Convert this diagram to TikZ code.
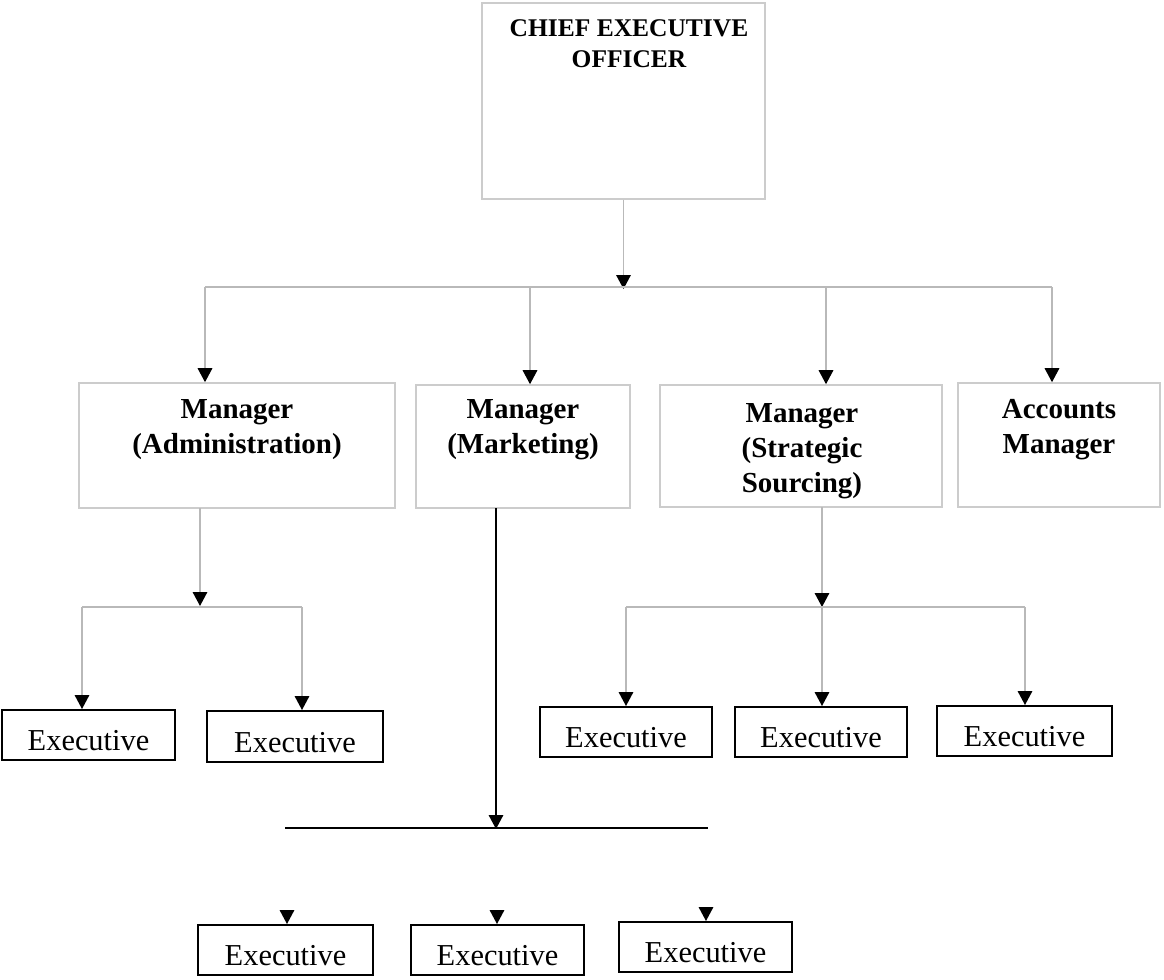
\documentclass[tikz,border=0pt]{standalone}
\usepackage{fontspec}
\setmainfont{Liberation Serif}
\usetikzlibrary{arrows.meta}
\tikzset{
  gbox/.style={draw=gray!40, line width=0.9pt, inner sep=0pt},
  ebox/.style={draw=black, line width=1.1pt, inner sep=0pt, text height=18pt, text depth=0pt, font=\fontsize{17.3}{20}\selectfont},
  mtext/.style={font=\bfseries\fontsize{16.5}{19.9}\selectfont, align=center},
  ctext/.style={font=\bfseries\fontsize{14.5}{17.6}\selectfont, align=center},
  glink/.style={draw=gray!55, line width=0.9pt},
  blink/.style={draw=black, line width=0.9pt},
  tip/.style={-{Triangle[width=0.29cm,length=0.28cm,color=black]}}
}
\begin{document}
\begin{tikzpicture}[x=0.02cm,y=-0.02cm]
\useasboundingbox (0,0) rectangle (1164,980);

% CEO
\node[gbox, minimum width=5.66cm, minimum height=3.92cm] (ceo) at (623.5,101) {};
\node[ctext] (ceot) at (629,43.5) {CHIEF EXECUTIVE\\OFFICER};

% Managers
\node[gbox, minimum width=6.32cm, minimum height=2.5cm] (adm) at (237,445.5) {};
\node[mtext] (admt) at (237,430) {Manager\\(Administration)};
\node[gbox, minimum width=4.28cm, minimum height=2.46cm] (mkt) at (523,446.5) {};
\node[mtext] (mktt) at (523,430) {Manager\\(Marketing)};
\node[gbox, minimum width=5.64cm, minimum height=2.44cm] (str) at (801,446) {};
\node[mtext] (strt) at (802,451) {Manager\\(Strategic\\Sourcing)};
\node[gbox, minimum width=4.04cm, minimum height=2.48cm] (acc) at (1059,445) {};
\node[mtext] (acct) at (1059,430) {Accounts\\Manager};

% Executives (administration)
\node[ebox, minimum width=3.46cm, minimum height=1.0cm] (e1) at (88.5,735) {Executive};
\node[ebox, minimum width=3.52cm, minimum height=1.02cm] (e2) at (295,736.5) {Executive};
% Executives (strategic sourcing)
\node[ebox, minimum width=3.44cm, minimum height=1.0cm] (s1) at (626,732) {Executive};
\node[ebox, minimum width=3.44cm, minimum height=1.0cm] (s2) at (821,732) {Executive};
\node[ebox, minimum width=3.5cm, minimum height=1.0cm] (s3) at (1024.5,731) {Executive};
% Executives (marketing)
\node[ebox, minimum width=3.5cm, minimum height=1.0cm] (m1) at (285.5,950) {Executive};
\node[ebox, minimum width=3.46cm, minimum height=1.0cm] (m2) at (497.5,950) {Executive};
\node[ebox, minimum width=3.46cm, minimum height=1.0cm] (m3) at (705.5,947) {Executive};

% CEO to managers
\coordinate (bus) at (622,289);
\coordinate (bL) at (205,287);
\coordinate (bM) at (530,287);
\coordinate (bS) at (826,287);
\coordinate (bR) at (1052,287);
\draw[glink, tip] (ceo.south) -- (ceo.south |- bus);
\draw[glink] (bL) -- (bR);
\draw[glink, tip] (bL) -- (bL |- adm.north);
\draw[glink, tip] (bM) -- (bM |- mkt.north);
\draw[glink, tip] (bS) -- (bS |- str.north);
\draw[glink, tip] (bR) -- (bR |- acc.north);

% Administration branch
\coordinate (aOut) at (200,508);
\coordinate (aBus) at (200,606);
\coordinate (aL) at (82,607);
\coordinate (aR) at (302,607);
\draw[glink, tip] (aOut) -- (aBus);
\draw[glink] (aL) -- (aR);
\draw[glink, tip] (aL) -- (aL |- e1.north);
\draw[glink, tip] (aR) -- (aR |- e2.north);

% Strategic sourcing branch
\coordinate (sOut) at (822,507);
\coordinate (sBus) at (822,607);
\coordinate (sL) at (626,607);
\coordinate (sR) at (1025,607);
\draw[glink, tip] (sOut) -- (sBus);
\draw[glink] (sL) -- (sR);
\draw[glink, tip] (sL) -- (sL |- s1.north);
\draw[glink, tip] (sBus) -- (sBus |- s2.north);
\draw[glink, tip] (sR) -- (sR |- s3.north);

% Marketing branch
\coordinate (mOut) at (496,508);
\coordinate (mBus) at (496,829);
\coordinate (mL) at (285,828);
\coordinate (mR) at (708,828);
\draw[blink, tip] (mOut) -- (mBus);
\draw[blink] (mL) -- (mR);
\coordinate (t1) at (287,911);
\coordinate (t2) at (497,911);
\coordinate (t3) at (706,908);
\draw[blink, tip] (t1) -- (t1 |- m1.north);
\draw[blink, tip] (t2) -- (t2 |- m2.north);
\draw[blink, tip] (t3) -- (t3 |- m3.north);
\end{tikzpicture}
\end{document}
